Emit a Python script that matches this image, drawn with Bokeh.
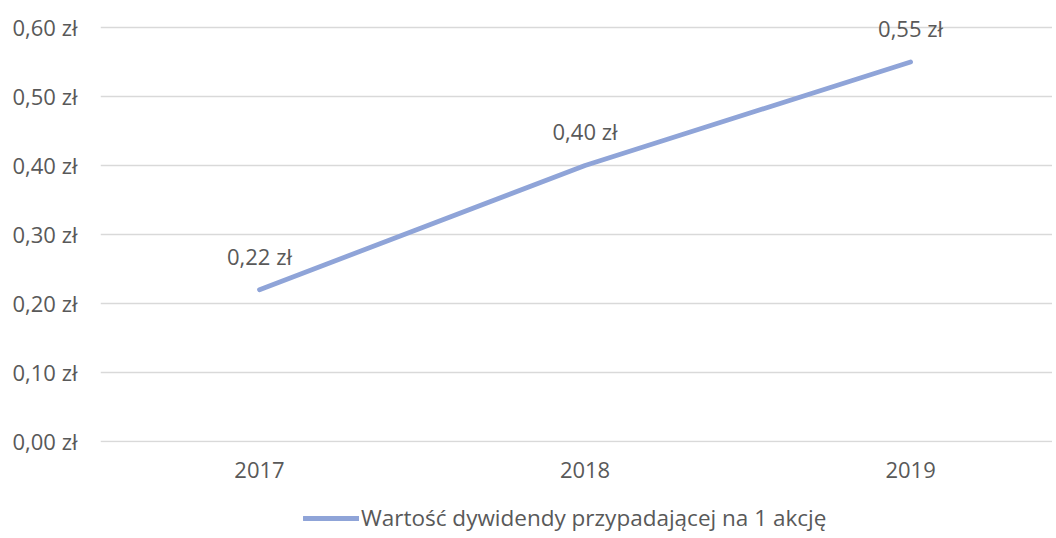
from bokeh.plotting import figure
from bokeh.layouts import column
from bokeh.models import Range1d, FixedTicker, Legend, LegendItem, ColumnDataSource
from bokeh.core.properties import value
from bokeh.embed import file_html
from bokeh.resources import INLINE

years = ["2017", "2018", "2019"]
dividend = [0.22, 0.40, 0.55]
labels = ["0,22 zł", "0,40 zł", "0,55 zł"]
y_ticks = [0.0, 0.1, 0.2, 0.3, 0.4, 0.5, 0.6]
y_tick_labels = ["0,00 zł", "0,10 zł", "0,20 zł", "0,30 zł", "0,40 zł", "0,50 zł", "0,60 zł"]
series_name = "Wartość dywidendy przypadającej na 1 akcję"

FONT = "Open Sans"
TXT = "#595959"
LINE = "#8FA4D8"
FS = "22px"
W = 1052

xs = list(range(len(years)))
src = ColumnDataSource(dict(x=xs, y=dividend, lab=labels))

p = figure(width=W, height=490, output_backend="svg", toolbar_location=None,
           x_range=Range1d(-0.4885, 2.436), y_range=Range1d(-0.00145, 0.6101),
           min_border_left=100, min_border_right=0, min_border_top=20, min_border_bottom=48)
p.outline_line_color = None
p.background_fill_color = "white"
p.border_fill_color = "white"

r = p.line("x", "y", source=src, line_color=LINE, line_width=4.8, line_cap="round", line_join="round")
p.text("x", "y", text="lab", source=src, text_font=value(FONT), text_font_size=FS,
       text_color=TXT, text_align="center", text_baseline="middle", y_offset=-34)

p.xaxis.ticker = FixedTicker(ticks=xs)
p.xaxis.major_label_overrides = {i: y for i, y in enumerate(years)}
p.yaxis.ticker = FixedTicker(ticks=y_ticks)
p.yaxis.major_label_overrides = {t: l for t, l in zip(y_ticks, y_tick_labels)}
for ax in (p.xaxis, p.yaxis):
    ax.axis_line_color = None
    ax.major_tick_line_color = None
    ax.minor_tick_line_color = None
    ax.major_label_text_font = FONT
    ax.major_label_text_font_size = FS
    ax.major_label_text_color = TXT
p.xaxis.major_label_standoff = 13
p.yaxis.major_label_standoff = 17
p.xgrid.grid_line_color = None
p.ygrid.grid_line_color = "#D9D9D9"
p.ygrid.grid_line_width = 1.3

# legend row below the chart (frame aligned with the chart's frame by the column layout)
lg = figure(width=W, height=48, output_backend="svg", toolbar_location=None,
            x_range=Range1d(0, 1), y_range=Range1d(0, 1),
            x_axis_type=None, y_axis_type=None,
            min_border_left=100, min_border_right=0, min_border_top=0, min_border_bottom=0)
lg.outline_line_color = None
lg.xgrid.grid_line_color = None
lg.ygrid.grid_line_color = None
dummy = lg.line(x=[-10, -9], y=[-10, -10], line_color=LINE, line_width=4.8, line_cap="round")
legend = Legend(items=[LegendItem(label=series_name, renderers=[dummy])], location=(203, 5),
                orientation="horizontal", border_line_color=None, background_fill_alpha=0,
                label_text_font=FONT, label_text_font_size="22.5px", label_text_color=TXT,
                glyph_width=56, label_standoff=2, padding=0, margin=0)
lg.add_layout(legend, "center")

open("out.html", "w").write(file_html(column(p, lg), INLINE))
